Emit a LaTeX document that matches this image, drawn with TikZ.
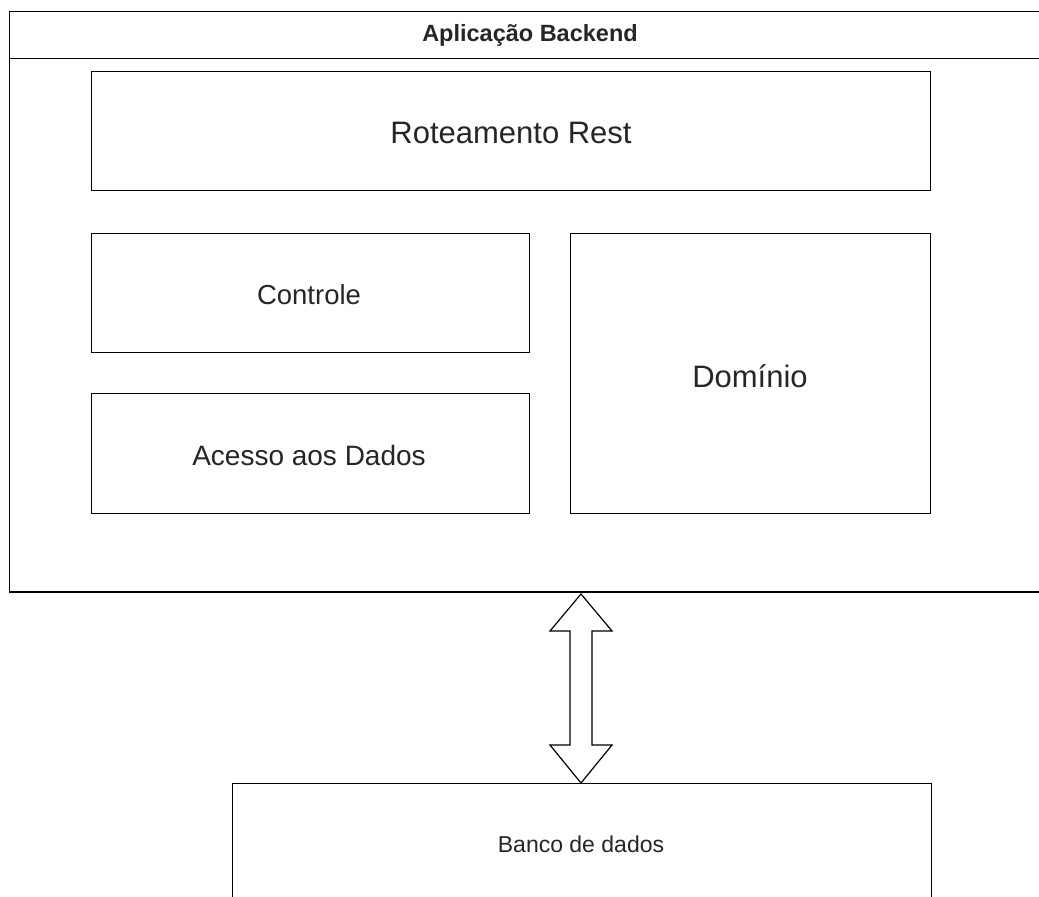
\documentclass[tikz,border=0pt]{standalone}
\usepackage{fontspec}
\setmainfont{Liberation Sans}
\begin{document}
\begin{tikzpicture}[x=1pt,y=-1pt,
  box/.style={draw=black,line width=1.2pt,fill=white,rectangle,inner sep=0pt},
  lbl/.style={inner sep=0pt,text=black!85}]
\useasboundingbox (0,0) rectangle (1039,897);
\clip (0,0) rectangle (1039,897);
% backend container with its title bar
\draw[line width=1.2pt] (9.5,11.5) rectangle (1050,592);
\draw[line width=1.2pt] (9.5,58.5) -- (1050,58.5);
\node[lbl,font=\fontsize{23.5}{28}\selectfont\bfseries] (title) at (530,35) {Aplicação Backend};
% layers of the application
\draw[box] (91.5,71.5) rectangle (930.5,190.5);
\node[lbl,font=\fontsize{31}{37}\selectfont] (rot) at (511,133) {Roteamento Rest};
\draw[box] (91.5,233.5) rectangle (529.5,352.5);
\node[lbl,font=\fontsize{27.5}{33}\selectfont] (ctl) at (309,295) {Controle};
\draw[box] (91.5,393.5) rectangle (529.5,513.5);
\node[lbl,font=\fontsize{28}{33}\selectfont] (acc) at (309,455) {Acesso aos Dados};
\draw[box] (570.5,233.5) rectangle (930.5,513.5);
\node[lbl,font=\fontsize{31}{37}\selectfont] (dom) at (750,376) {Domínio};
% database
\draw[box] (232.5,783.5) rectangle (931.5,910);
\node[lbl,font=\fontsize{23}{28}\selectfont] (db) at (581,844) {Banco de dados};
% two-way arrow between application and database
\coordinate (top) at (581,594);
\coordinate (bot) at (581,783);
\draw[line width=1.2pt,fill=white,line join=miter]
  (top) -- (612,631) -- (592,631) -- (592,745) -- (612,745) -- (bot)
  -- (550,745) -- (570,745) -- (570,631) -- (550,631) -- cycle;
\end{tikzpicture}
\end{document}
